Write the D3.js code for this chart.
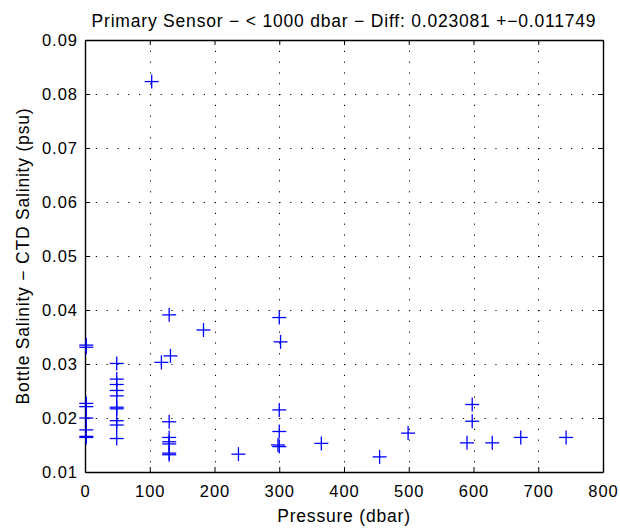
<!DOCTYPE html>
<html lang="en">
<head>
<script src="https://d3js.org/d3.v7.min.js"></script>
<style>
  body { margin: 0; background: #fff; }
  text { font-family: "Liberation Sans", Arial, sans-serif; fill: #000; }
</style>
</head>
<body>
<script>
// pressure (dbar) and salinity difference (psu)
var pressure = [2, 2, 2, 2, 2, 2, 2, 2,
                49, 49, 49, 49, 49, 49, 49, 49, 49, 49,
                103, 118, 132, 130, 183, 130, 130, 130, 130, 130, 130,
                237, 300, 302, 300, 300, 298, 300,
                365, 455, 499, 598, 598, 590, 629, 673, 743];
var diff = [0.0335, 0.0331, 0.0227, 0.0221, 0.0200, 0.0178, 0.0166, 0.0164,
            0.0301, 0.0272, 0.0262, 0.0251, 0.0241, 0.0220, 0.0217, 0.0195, 0.0187, 0.0162,
            0.0823, 0.0303, 0.0315, 0.0391, 0.0363, 0.0193, 0.0164, 0.0156, 0.0152, 0.0135, 0.0132,
            0.0133, 0.0386, 0.0341, 0.0215, 0.0175, 0.0150, 0.0147,
            0.0153, 0.0128, 0.0172, 0.0225, 0.0194, 0.0154, 0.0154, 0.0164, 0.0164];
var xTicks = [0, 100, 200, 300, 400, 500, 600, 700, 800];
var yTicks = [0.01, 0.02, 0.03, 0.04, 0.05, 0.06, 0.07, 0.08, 0.09];
var title = "Primary Sensor \u2212 < 1000 dbar \u2212 Diff: 0.023081 +\u22120.011749";

const W = 620, H = 531;
const mLeft = 85, mRight = 603, mTop = 40, mBottom = 472;

const svg = d3.select("body").append("svg")
  .attr("width", W).attr("height", H);

const x = d3.scaleLinear().domain([0, 800]).range([mLeft, mRight]);
const y = d3.scaleLinear().domain([0.01, 0.09]).range([mBottom, mTop]);

// dotted grid
svg.append("g").selectAll("line.gx")
  .data(xTicks.slice(1, -1)).enter().append("line")
  .attr("x1", d => Math.round(x(d)) + 0.5).attr("x2", d => Math.round(x(d)) + 0.5)
  .attr("y1", mTop).attr("y2", mBottom);
svg.append("g").selectAll("line.gy")
  .data(yTicks.slice(1, -1)).enter().append("line")
  .attr("y1", d => Math.round(y(d)) + 0.5).attr("y2", d => Math.round(y(d)) + 0.5)
  .attr("x1", mLeft).attr("x2", mRight);
svg.selectAll("g line")
  .attr("stroke", "#000").attr("stroke-width", 1).attr("stroke-dasharray", "1.2,9.6");

// axes with inward ticks, MATLAB style
const tickFont = g => g.selectAll("text").style("font-size", "16.5px").style("letter-spacing", "1px");
svg.append("g").attr("transform", "translate(0," + mBottom + ")")
  .call(d3.axisBottom(x).tickValues(xTicks).tickSizeInner(-5).tickSizeOuter(0).tickPadding(13))
  .call(tickFont);
svg.append("g").attr("transform", "translate(0," + mTop + ")")
  .call(d3.axisTop(x).tickValues(xTicks).tickSizeInner(-5).tickSizeOuter(0).tickFormat(""));
svg.append("g").attr("transform", "translate(" + mLeft + ",0)")
  .call(d3.axisLeft(y).tickValues(yTicks).tickSizeInner(-5).tickSizeOuter(0).tickPadding(7)
    .tickFormat(d => d3.format(".2f")(d)))
  .call(tickFont);
svg.append("g").attr("transform", "translate(" + mRight + ",0)")
  .call(d3.axisRight(y).tickValues(yTicks).tickSizeInner(-5).tickSizeOuter(0).tickFormat(""));
svg.selectAll(".domain").attr("stroke", "#000").attr("stroke-width", 1.4);
svg.selectAll(".tick line").attr("stroke", "#000");

// markers
const arm = 7;
const pts = svg.append("g").selectAll("g.pt")
  .data(pressure.map((p, i) => [p, diff[i]])).enter().append("g")
  .attr("transform", d => "translate(" + x(d[0]) + "," + y(d[1]) + ")");
pts.append("line").attr("x1", -arm).attr("x2", arm).attr("y1", 0).attr("y2", 0);
pts.append("line").attr("y1", -arm).attr("y2", arm).attr("x1", 0).attr("x2", 0);
pts.selectAll("line").attr("stroke", "#0000ff").attr("stroke-width", 1.3);

// labels
svg.append("text").attr("x", (mLeft + mRight) / 2).attr("y", 27)
  .attr("text-anchor", "middle").style("font-size", "17.5px").style("letter-spacing", "0.8px")
  .text(title);
svg.append("text").attr("x", (mLeft + mRight) / 2).attr("y", 522)
  .attr("text-anchor", "middle").style("font-size", "17.5px").style("letter-spacing", "0.8px")
  .text("Pressure (dbar)");
svg.append("text")
  .attr("transform", "translate(29," + (mTop + mBottom) / 2 + ") rotate(-90)")
  .attr("text-anchor", "middle").style("font-size", "17.5px").style("letter-spacing", "0.8px")
  .text("Bottle Salinity \u2212 CTD Salinity (psu)");
</script>
</body>
</html>
